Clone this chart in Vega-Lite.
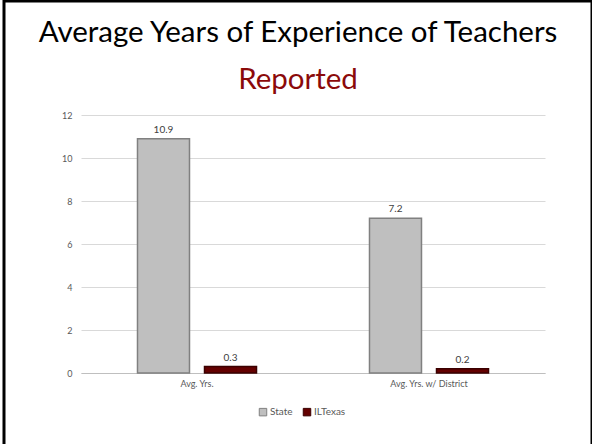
{
  "$schema": "https://vega.github.io/schema/vega-lite/v6.json",
  "autosize": "none",
  "padding": {"left": 4, "top": 1, "right": 0, "bottom": 0},
  "width": 588,
  "height": 446,
  "background": "white",
  "config": {
    "view": {"stroke": "black", "strokeWidth": 3},
    "font": "Lato"
  },
  "title": {
    "text": "Average Years of Experience of Teachers",
    "subtitle": "Reported",
    "anchor": "middle",
    "frame": "group",
    "offset": -94,
    "font": "Lato",
    "fontSize": 29.5,
    "fontWeight": "normal",
    "color": "black",
    "subtitleFont": "Lato",
    "subtitleFontSize": 29.5,
    "subtitleColor": "#8b0a0a",
    "subtitlePadding": 17
  },
  "data": {
    "values": [
      {"category": "Avg. Yrs.", "group": "State", "value": 10.9},
      {"category": "Avg. Yrs.", "group": "ILTexas", "value": 0.3},
      {"category": "Avg. Yrs. w/ District", "group": "State", "value": 7.2},
      {"category": "Avg. Yrs. w/ District", "group": "ILTexas", "value": 0.2}
    ]
  },
  "encoding": {
    "x": {
      "field": "category", "type": "nominal", "sort": null,
      "scale": {"range": [77, 541], "paddingInner": 0.487, "paddingOuter": 0.2435},
      "axis": {"title": null, "orient": "bottom", "offset": -74, "labelAngle": 0, "ticks": false,
               "domainColor": "#bfbfbf", "domainWidth": 1, "labelFontSize": 9, "labelColor": "#595959",
               "labelPadding": 6, "grid": false}
    },
    "xOffset": {
      "field": "group", "type": "nominal", "sort": ["State", "ILTexas"],
      "scale": {"paddingInner": 0.224, "paddingOuter": 0}
    },
    "y": {
      "field": "value", "type": "quantitative",
      "scale": {"domain": [0, 12], "range": [372, 114], "nice": false},
      "axis": {"title": null, "orient": "left", "offset": -77, "values": [0, 2, 4, 6, 8, 10, 12],
               "domain": false, "ticks": false, "labelFontSize": 9, "labelColor": "#595959",
               "labelPadding": 9, "gridColor": "#d9d9d9", "gridWidth": 1}
    }
  },
  "layer": [
    {
      "mark": {"type": "bar", "strokeWidth": 1.5},
      "encoding": {
        "color": {
          "field": "group", "type": "nominal", "sort": ["State", "ILTexas"],
          "scale": {"domain": ["State", "ILTexas"], "range": ["#bfbfbf", "#640000"]},
          "legend": {
            "title": null, "orient": "none", "direction": "horizontal",
            "legendX": 254, "legendY": 406,
            "symbolType": "square", "symbolSize": 56, "symbolStrokeColor": "#404040", "symbolStrokeWidth": 1,
            "labelFontSize": 10, "labelColor": "#595959", "columnPadding": 8, "labelOffset": 2
          }
        },
        "stroke": {
          "field": "group", "type": "nominal",
          "scale": {"domain": ["State", "ILTexas"], "range": ["#808080", "#3a0000"]},
          "legend": null
        }
      }
    },
    {
      "mark": {"type": "text", "dy": -9, "fontSize": 10, "color": "#404040"},
      "encoding": {"text": {"field": "value", "type": "quantitative", "format": ".1f"}}
    }
  ]
}
